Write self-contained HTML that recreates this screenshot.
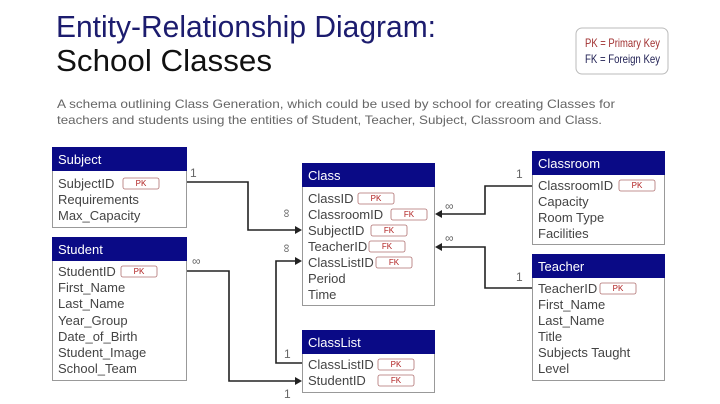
<!DOCTYPE html>
<html><head><meta charset="utf-8"><style>
html,body{margin:0;padding:0;background:#fff;}
svg{display:block;}
text{font-family:"Liberation Sans",sans-serif;}
.h{fill:#fff;font-size:13px;}
.r{fill:#444;font-size:13px;}
.b{fill:#fff;stroke:#999;stroke-width:1;}
.hd{fill:#0a0a86;}
.k{fill:#fff;stroke:#b07070;stroke-width:0.8;}
.kt{font-size:8px;fill:#b02020;text-anchor:middle;}
.ln{fill:none;stroke:#222;stroke-width:1.6;}
.lb{fill:#666;font-size:12px;}
</style></head><body>
<svg width="720" height="404" viewBox="0 0 720 404" xmlns="http://www.w3.org/2000/svg">
<text x="56" y="37" font-size="31" fill="#1c1c6e" textLength="380" lengthAdjust="spacingAndGlyphs">Entity-Relationship Diagram:</text>
<text x="56" y="71" font-size="31" fill="#111" textLength="216" lengthAdjust="spacingAndGlyphs">School Classes</text>
<rect x="576" y="28" width="92" height="46" rx="6" fill="#fff" stroke="#bbb"/>
<text x="585" y="47" font-size="12" fill="#a03030" textLength="75" lengthAdjust="spacingAndGlyphs">PK = Primary Key</text>
<text x="585" y="63" font-size="12" fill="#222255" textLength="75" lengthAdjust="spacingAndGlyphs">FK = Foreign Key</text>
<text x="57" y="108" font-size="12" fill="#666" textLength="558" lengthAdjust="spacingAndGlyphs">A schema outlining Class Generation, which could be used by school for creating Classes for</text>
<text x="57" y="124" font-size="12" fill="#666" textLength="545" lengthAdjust="spacingAndGlyphs">teachers and students using the entities of Student, Teacher, Subject, Classroom and Class.</text>

<polyline class="ln" points="186,182 248,182 248,230 296,230"/>
<polygon points="302,230 295,226 295,234" fill="#222"/>
<polyline class="ln" points="186,271 229,271 229,381 296,381"/>
<polygon points="302,381 295,377 295,385" fill="#222"/>
<polyline class="ln" points="302,363 276,363 276,261 296,261"/>
<polygon points="302,261 295,257 295,265" fill="#222"/>
<polyline class="ln" points="532,186 485,186 485,214 441,214"/>
<polygon points="435,214 442,210 442,218" fill="#222"/>
<polyline class="ln" points="532,288 485,288 485,247 441,247"/>
<polygon points="435,247 442,243 442,251" fill="#222"/>
<text class="lb" x="190" y="177">1</text>
<text class="lb" x="284" y="358">1</text>
<text class="lb" x="284" y="398">1</text>
<text class="lb" x="516" y="178">1</text>
<text class="lb" x="516" y="281">1</text>
<text class="lb" x="192" y="265" font-size="17">∞</text>
<text class="lb" font-size="17" transform="translate(283,209) rotate(90)">∞</text>
<text class="lb" font-size="17" transform="translate(283,244) rotate(90)">∞</text>
<text class="lb" x="445" y="210" font-size="17">∞</text>
<text class="lb" x="445" y="242" font-size="17">∞</text>

<rect class="b" x="52.5" y="147.5" width="134" height="80"/>
<rect class="hd" x="52" y="147" width="135" height="24"/>
<text class="h" x="58" y="164">Subject</text>
<text class="r" x="58" y="188">SubjectID</text><rect class="k" x="123" y="178" width="36" height="11" rx="2"/><text class="kt" x="141" y="186">PK</text>
<text class="r" x="58" y="204">Requirements</text>
<text class="r" x="58" y="220">Max_Capacity</text>

<rect class="b" x="52.5" y="237.5" width="134" height="143"/>
<rect class="hd" x="52" y="237" width="135" height="24"/>
<text class="h" x="58" y="254">Student</text>
<text class="r" x="58" y="276">StudentID</text><rect class="k" x="121" y="266" width="36" height="11" rx="2"/><text class="kt" x="139" y="274">PK</text>
<text class="r" x="58" y="292">First_Name</text>
<text class="r" x="58" y="308">Last_Name</text>
<text class="r" x="58" y="325">Year_Group</text>
<text class="r" x="58" y="341">Date_of_Birth</text>
<text class="r" x="58" y="357">Student_Image</text>
<text class="r" x="58" y="373">School_Team</text>

<rect class="b" x="302.5" y="163.5" width="132" height="142"/>
<rect class="hd" x="302" y="163" width="133" height="24"/>
<text class="h" x="308" y="180">Class</text>
<text class="r" x="308" y="203">ClassID</text><rect class="k" x="358" y="193" width="36" height="11" rx="2"/><text class="kt" x="376" y="201">PK</text>
<text class="r" x="308" y="219">ClassroomID</text><rect class="k" x="391" y="209" width="36" height="11" rx="2"/><text class="kt" x="409" y="217">FK</text>
<text class="r" x="308" y="235">SubjectID</text><rect class="k" x="371" y="225" width="36" height="11" rx="2"/><text class="kt" x="389" y="233">FK</text>
<text class="r" x="308" y="251">TeacherID</text><rect class="k" x="369" y="241" width="36" height="11" rx="2"/><text class="kt" x="387" y="249">FK</text>
<text class="r" x="308" y="267">ClassListID</text><rect class="k" x="376" y="257" width="36" height="11" rx="2"/><text class="kt" x="394" y="265">FK</text>
<text class="r" x="308" y="283">Period</text>
<text class="r" x="308" y="299">Time</text>

<rect class="b" x="302.5" y="330.5" width="132" height="62"/>
<rect class="hd" x="302" y="330" width="133" height="24"/>
<text class="h" x="308" y="347">ClassList</text>
<text class="r" x="308" y="369">ClassListID</text><rect class="k" x="378" y="359" width="36" height="11" rx="2"/><text class="kt" x="396" y="367">PK</text>
<text class="r" x="308" y="385">StudentID</text><rect class="k" x="378" y="375" width="36" height="11" rx="2"/><text class="kt" x="396" y="383">FK</text>

<rect class="b" x="532.5" y="151.5" width="132" height="93"/>
<rect class="hd" x="532" y="151" width="133" height="24"/>
<text class="h" x="538" y="168">Classroom</text>
<text class="r" x="538" y="190">ClassroomID</text><rect class="k" x="619" y="180" width="36" height="11" rx="2"/><text class="kt" x="637" y="188">PK</text>
<text class="r" x="538" y="206">Capacity</text>
<text class="r" x="538" y="222">Room Type</text>
<text class="r" x="538" y="238">Facilities</text>

<rect class="b" x="532.5" y="254.5" width="132" height="126"/>
<rect class="hd" x="532" y="254" width="133" height="24"/>
<text class="h" x="538" y="271">Teacher</text>
<text class="r" x="538" y="293">TeacherID</text><rect class="k" x="600" y="283" width="36" height="11" rx="2"/><text class="kt" x="618" y="291">PK</text>
<text class="r" x="538" y="309">First_Name</text>
<text class="r" x="538" y="325">Last_Name</text>
<text class="r" x="538" y="341">Title</text>
<text class="r" x="538" y="357">Subjects Taught</text>
<text class="r" x="538" y="373">Level</text>
</svg>
</body></html>
